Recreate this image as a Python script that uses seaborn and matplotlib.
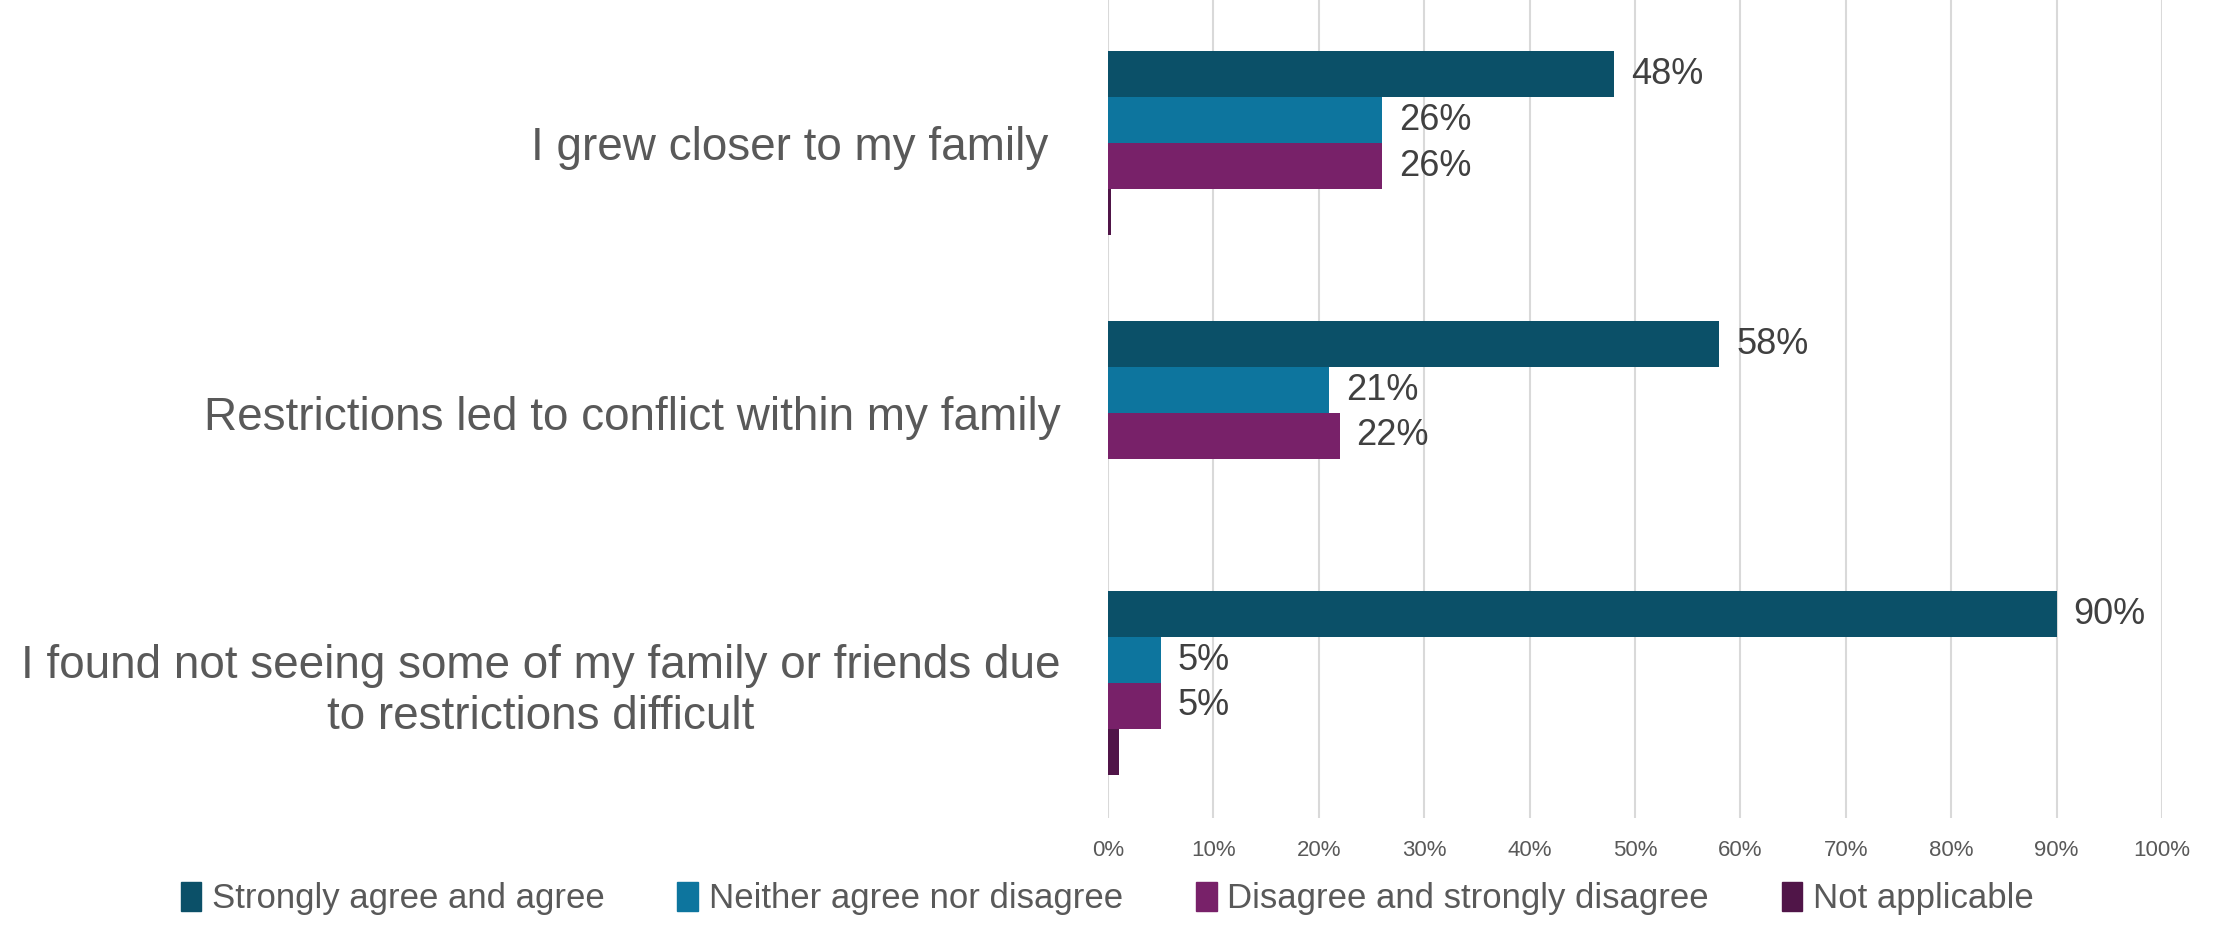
import matplotlib
matplotlib.use("Agg")
import matplotlib.pyplot as plt
import seaborn as sns
import pandas as pd
from matplotlib.font_manager import fontManager

statements = [
    "I grew closer to my family ",
    "Restrictions led to conflict within my family",
    "I found not seeing some of my family or friends due\nto restrictions difficult",
]
responses = [
    "Strongly agree and agree",
    "Neither agree nor disagree",
    "Disagree and strongly disagree",
    "Not applicable",
]
strongly_agree = [48, 58, 90]
neither = [26, 21, 5]
disagree = [26, 22, 5]
not_applicable = [0.3, 0, 1]
labelled = [True, True, True, False]

colors = ["#0B5068", "#0D759E", "#782169", "#501548"]

series = [strongly_agree, neither, disagree, not_applicable]
rows = []
for resp, vals in zip(responses, series):
    for stmt, v in zip(statements, vals):
        rows.append({"statement": stmt, "response": resp, "value": v})
df = pd.DataFrame(rows)

sns.set_theme(style="white")
names = {f.name for f in fontManager.ttflist}
narrow = "Liberation Sans Narrow" if "Liberation Sans Narrow" in names else "Liberation Sans"
plt.rcParams["font.family"] = ["Liberation Sans", "DejaVu Sans"]

fig = plt.figure(figsize=(22.14, 9.26), dpi=100)
ax = fig.add_axes([0.5005, 1 - 818 / 926, 0.9765 - 0.5005, 818 / 926])

sns.barplot(
    data=df, y="statement", x="value", hue="response",
    order=statements, hue_order=responses, palette=colors,
    orient="h", width=0.68, dodge=True, ax=ax, legend=False,
    saturation=1, linewidth=0,
)

for cont, show in zip(ax.containers, labelled):
    if show:
        ax.bar_label(cont, labels=[f"{v:.0f}%" for v in cont.datavalues],
                     padding=12, fontsize=26, color="#404040")

ax.set_xlim(0, 100)
ax.set_ylim(2.5, -0.53)
ax.set_xticks(range(0, 101, 10))
ax.set_xticklabels([f"{t}%" for t in range(0, 101, 10)],
                   fontsize=16, color="#595959", family=[narrow, "DejaVu Sans"])
ax.tick_params(axis="x", length=0, pad=16)
ax.tick_params(axis="y", length=0, pad=34)
for lab in ax.get_yticklabels():
    lab.set_fontsize(33)
    lab.set_color("#595959")
    lab.set_multialignment("center")
ax.set_xlabel("")
ax.set_ylabel("")
ax.grid(axis="x", color="#D9D9D9", linewidth=1.5)
ax.set_axisbelow(True)
for s in ax.spines.values():
    s.set_visible(False)

handles = [plt.Rectangle((0, 0), 1, 1, color=c) for c in colors]
fig.legend(handles, responses, loc="lower center", ncol=4,
           bbox_to_anchor=(0.5, -0.022), frameon=False,
           prop={"family": [narrow, "DejaVu Sans"], "size": 25},
           labelcolor="#595959", handlelength=0.6, handleheight=0.9,
           handletextpad=0.3, columnspacing=2.1)

fig.savefig("out.png", dpi=100)
